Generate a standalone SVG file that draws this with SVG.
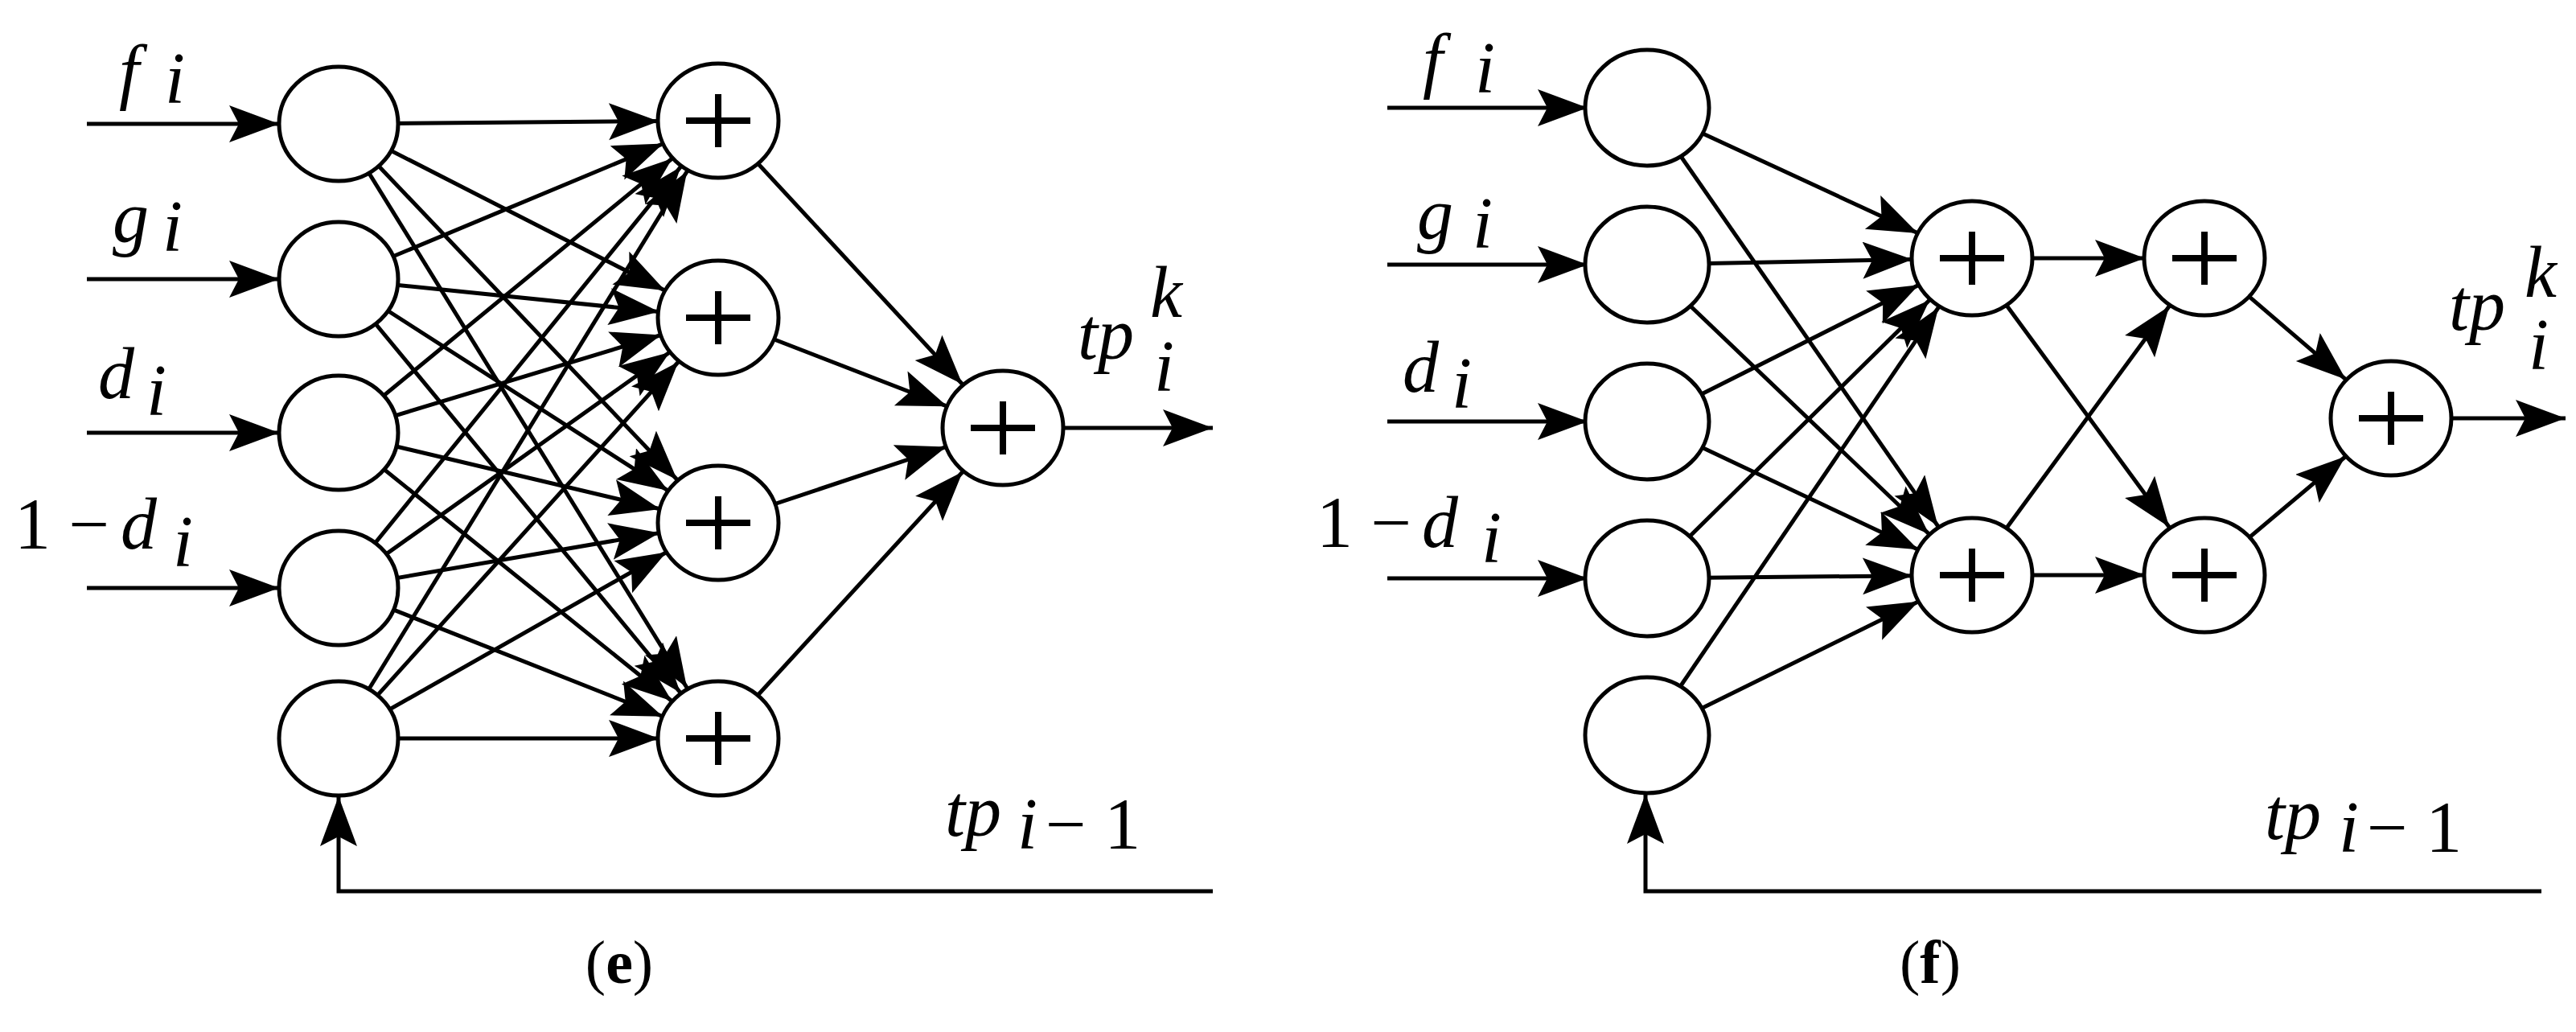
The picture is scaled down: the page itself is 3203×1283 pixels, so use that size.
<svg xmlns="http://www.w3.org/2000/svg" width="3203" height="1283" viewBox="0 0 3203 1283">
<defs>
<marker id="a" markerUnits="userSpaceOnUse" markerWidth="160" markerHeight="50" refX="136" refY="23" orient="auto"><path d="M0,0 L62,23 L0,46 L12,23 z" fill="#000"/></marker>
<marker id="t" markerUnits="userSpaceOnUse" markerWidth="70" markerHeight="50" refX="62" refY="23" orient="auto"><path d="M0,0 L62,23 L0,46 L12,23 z" fill="#000"/></marker>
</defs>
<style>
.c line,.c path{stroke:#000;stroke-width:5;fill:none;marker-end:url(#a)}
.c .e{marker-end:url(#t)}
.n ellipse{fill:#fff;stroke:#000;stroke-width:5}
.p{stroke:#000;stroke-width:8}
text{font-family:"Liberation Serif",serif;font-size:90px;font-style:italic;fill:#000}
.r{font-style:normal}
.cap{font-style:normal;font-size:76px}
</style>
<g id="connectors" class="c">
<line x1="108" y1="154" x2="421" y2="154"/><line x1="108" y1="347" x2="421" y2="347"/><line x1="108" y1="538" x2="421" y2="538"/><line x1="108" y1="731" x2="421" y2="731"/>
<line x1="421" y1="154" x2="893" y2="150"/><line x1="421" y1="154" x2="893" y2="395"/><line x1="421" y1="154" x2="893" y2="650"/><line x1="421" y1="154" x2="893" y2="918"/>
<line x1="421" y1="347" x2="893" y2="150"/><line x1="421" y1="347" x2="893" y2="395"/><line x1="421" y1="347" x2="893" y2="650"/><line x1="421" y1="347" x2="893" y2="918"/>
<line x1="421" y1="538" x2="893" y2="150"/><line x1="421" y1="538" x2="893" y2="395"/><line x1="421" y1="538" x2="893" y2="650"/><line x1="421" y1="538" x2="893" y2="918"/>
<line x1="421" y1="731" x2="893" y2="150"/><line x1="421" y1="731" x2="893" y2="395"/><line x1="421" y1="731" x2="893" y2="650"/><line x1="421" y1="731" x2="893" y2="918"/>
<line x1="421" y1="918" x2="893" y2="150"/><line x1="421" y1="918" x2="893" y2="395"/><line x1="421" y1="918" x2="893" y2="650"/><line x1="421" y1="918" x2="893" y2="918"/>
<line x1="893" y1="150" x2="1247" y2="532"/><line x1="893" y1="395" x2="1247" y2="532"/><line x1="893" y1="650" x2="1247" y2="532"/><line x1="893" y1="918" x2="1247" y2="532"/>
<line class="e" x1="1322" y1="532" x2="1508" y2="532"/>
<path class="e" d="M1508,1108 L421,1108 L421,990"/>
<line x1="1725" y1="134" x2="2048" y2="134"/><line x1="1725" y1="329" x2="2048" y2="329"/><line x1="1725" y1="524" x2="2048" y2="524"/><line x1="1725" y1="719" x2="2048" y2="719"/>
<line x1="2048" y1="134" x2="2452" y2="321"/><line x1="2048" y1="134" x2="2452" y2="715"/>
<line x1="2048" y1="329" x2="2452" y2="321"/><line x1="2048" y1="329" x2="2452" y2="715"/>
<line x1="2048" y1="524" x2="2452" y2="321"/><line x1="2048" y1="524" x2="2452" y2="715"/>
<line x1="2048" y1="719" x2="2452" y2="321"/><line x1="2048" y1="719" x2="2452" y2="715"/>
<line x1="2048" y1="914" x2="2452" y2="321"/><line x1="2048" y1="914" x2="2452" y2="715"/>
<line x1="2452" y1="321" x2="2741" y2="321"/><line x1="2452" y1="321" x2="2741" y2="715"/>
<line x1="2452" y1="715" x2="2741" y2="321"/><line x1="2452" y1="715" x2="2741" y2="715"/>
<line x1="2741" y1="321" x2="2973" y2="520"/><line x1="2741" y1="715" x2="2973" y2="520"/>
<line class="e" x1="3048" y1="520" x2="3190" y2="520"/>
<path class="e" d="M3160,1108 L2046,1108 L2046,987"/>
</g>
<g class="n">
<g id="e_in1"><ellipse cx="421" cy="154" rx="74" ry="71"/></g>
<g id="e_in2"><ellipse cx="421" cy="347" rx="74" ry="71"/></g>
<g id="e_in3"><ellipse cx="421" cy="538" rx="74" ry="71"/></g>
<g id="e_in4"><ellipse cx="421" cy="731" rx="74" ry="71"/></g>
<g id="e_in5"><ellipse cx="421" cy="918" rx="74" ry="71"/></g>
<g id="e_s1"><ellipse cx="893" cy="150" rx="75" ry="71"/><path class="p" d="M853,150h80M893,117v66"/></g>
<g id="e_s2"><ellipse cx="893" cy="395" rx="75" ry="71"/><path class="p" d="M853,395h80M893,362v66"/></g>
<g id="e_s3"><ellipse cx="893" cy="650" rx="75" ry="71"/><path class="p" d="M853,650h80M893,617v66"/></g>
<g id="e_s4"><ellipse cx="893" cy="918" rx="75" ry="71"/><path class="p" d="M853,918h80M893,885v66"/></g>
<g id="e_out"><ellipse cx="1247" cy="532" rx="75" ry="71"/><path class="p" d="M1207,532h80M1247,499v66"/></g>
<g id="f_in1"><ellipse cx="2048" cy="134" rx="77" ry="72"/></g>
<g id="f_in2"><ellipse cx="2048" cy="329" rx="77" ry="72"/></g>
<g id="f_in3"><ellipse cx="2048" cy="524" rx="77" ry="72"/></g>
<g id="f_in4"><ellipse cx="2048" cy="719" rx="77" ry="72"/></g>
<g id="f_in5"><ellipse cx="2048" cy="914" rx="77" ry="72"/></g>
<g id="f_a1"><ellipse cx="2452" cy="321" rx="75" ry="71"/><path class="p" d="M2412,321h80M2452,288v66"/></g>
<g id="f_a2"><ellipse cx="2452" cy="715" rx="75" ry="71"/><path class="p" d="M2412,715h80M2452,682v66"/></g>
<g id="f_b1"><ellipse cx="2741" cy="321" rx="75" ry="71"/><path class="p" d="M2701,321h80M2741,288v66"/></g>
<g id="f_b2"><ellipse cx="2741" cy="715" rx="75" ry="71"/><path class="p" d="M2701,715h80M2741,682v66"/></g>
<g id="f_out"><ellipse cx="2973" cy="520" rx="75" ry="71"/><path class="p" d="M2933,520h80M2973,487v66"/></g>
</g>
<g id="labels">
<text x="148" y="119">f</text><text x="205" y="128">i</text>
<text x="140" y="301">g</text><text x="202" y="312">i</text>
<text x="122" y="495">d</text><text x="182" y="516">i</text>
<text class="r" x="18" y="682">1 − </text><text x="150" y="682">d</text><text x="215" y="704">i</text>
<text x="1340" y="446">tp</text><text x="1430" y="394">k</text><text x="1435" y="486">i</text>
<text x="1175" y="1039">tp</text><text x="1265" y="1055">i</text><text class="r" x="1300" y="1055">− 1</text>
<text class="cap" x="770" y="1222" text-anchor="middle">(<tspan font-weight="bold">e</tspan>)</text>
<text x="1769" y="105">f</text><text x="1834" y="115">i</text>
<text x="1762" y="297">g</text><text x="1831" y="308">i</text>
<text x="1744" y="487">d</text><text x="1805" y="507">i</text>
<text class="r" x="1637" y="680">1 − </text><text x="1768" y="680">d</text><text x="1842" y="699">i</text>
<text x="3045" y="410">tp</text><text x="3139" y="369">k</text><text x="3144" y="459">i</text>
<text x="2816" y="1043">tp</text><text x="2908" y="1059">i</text><text class="r" x="2943" y="1059">− 1</text>
<text class="cap" x="2400" y="1222" text-anchor="middle">(<tspan font-weight="bold">f</tspan>)</text>
</g>
</svg>
